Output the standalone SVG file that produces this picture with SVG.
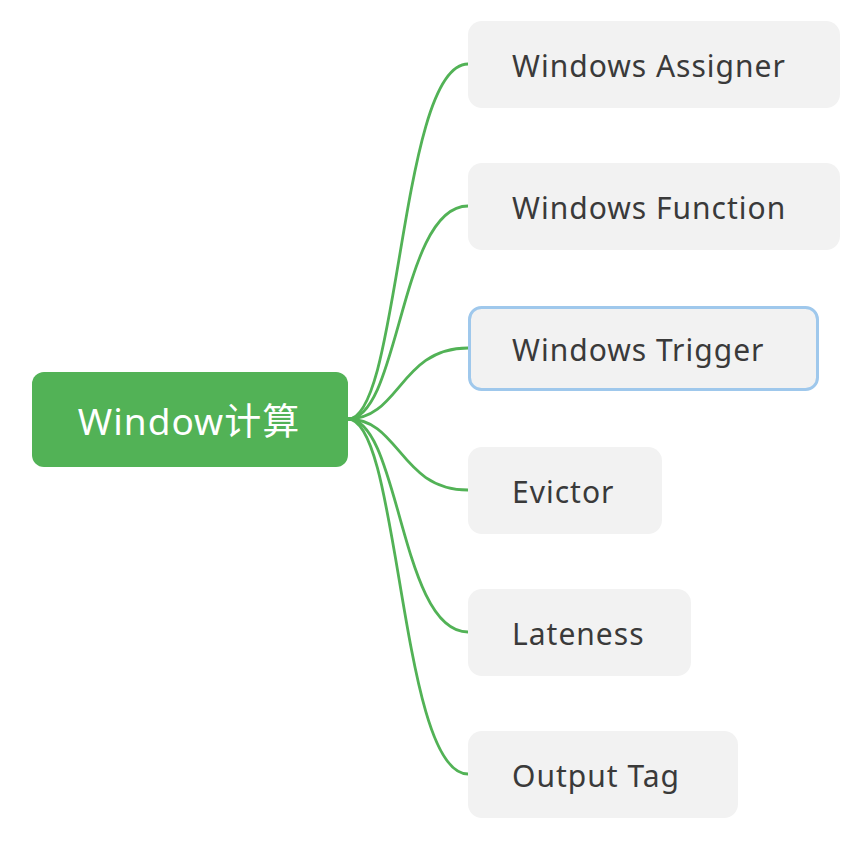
<svg xmlns="http://www.w3.org/2000/svg" width="862" height="850" viewBox="0 0 862 850">
<style>
.conn{fill:none;stroke:#52b256;stroke-width:2.8}
.box{fill:#f2f2f2}
.lbl{font-family:"Noto Sans","Liberation Sans",sans-serif;font-size:30px;letter-spacing:1px;fill:#3a3a3a}
.root{font-family:"Noto Sans","Noto Sans CJK SC",sans-serif;font-size:37px;letter-spacing:1px;fill:#ffffff}
</style>
<rect width="862" height="850" fill="#ffffff"/>
<g id="connectors">
<path class="conn" d="M348 419 C400 419 400 64 468 64"/>
<path class="conn" d="M348 419 C400 419 400 206 468 206"/>
<path class="conn" d="M348 419 C400 419 400 348 468 348"/>
<path class="conn" d="M348 419 C400 419 400 490 468 490"/>
<path class="conn" d="M348 419 C400 419 400 632 468 632"/>
<path class="conn" d="M348 419 C400 419 400 774 468 774"/>
</g>
<g id="root">
<rect x="32" y="372" width="316" height="95" rx="12" fill="#52b256"/>
<text class="root" x="189" y="435" text-anchor="middle">Window计算</text>
</g>
<g id="n1">
<rect class="box" x="468" y="21" width="372" height="87" rx="14"/>
<text class="lbl" x="512" y="77">Windows Assigner</text>
</g>
<g id="n2">
<rect class="box" x="468" y="163" width="372" height="87" rx="14"/>
<text class="lbl" x="512" y="219">Windows Function</text>
</g>
<g id="n3">
<rect class="box" x="469.5" y="307.5" width="348" height="82" rx="12" stroke="#9fc8ec" stroke-width="3"/>
<text class="lbl" x="512" y="361">Windows Trigger</text>
</g>
<g id="n4">
<rect class="box" x="468" y="447" width="194" height="87" rx="14"/>
<text class="lbl" x="512" y="503">Evictor</text>
</g>
<g id="n5">
<rect class="box" x="468" y="589" width="223" height="87" rx="14"/>
<text class="lbl" x="512" y="645">Lateness</text>
</g>
<g id="n6">
<rect class="box" x="468" y="731" width="270" height="87" rx="14"/>
<text class="lbl" x="512" y="787">Output Tag</text>
</g>
</svg>
